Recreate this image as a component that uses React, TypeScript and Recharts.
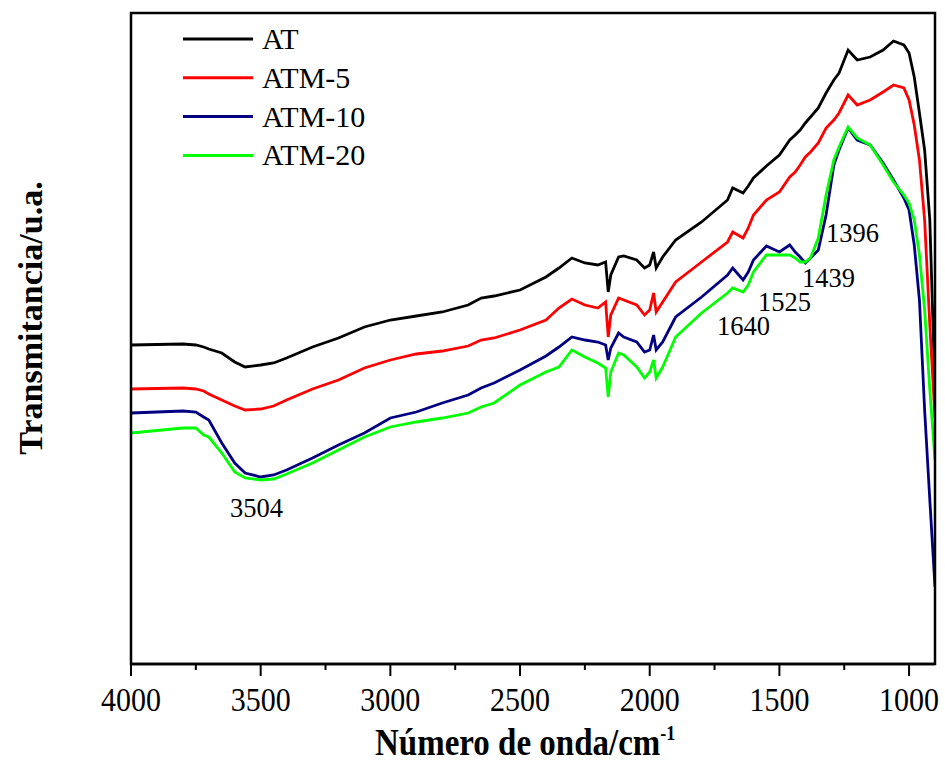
import React from 'react';
import { LineChart, Line, XAxis, YAxis } from 'recharts';

// wavenumber (cm-1), shared by every spectrum
const wavenumbers = [
  4000, 3800, 3750, 3720, 3700, 3650, 3600, 3560, 3500, 3450, 3400, 3300, 3200, 3100, 3000,
  2900, 2800, 2700, 2650, 2600, 2500, 2400, 2350, 2300, 2250, 2200, 2170, 2160, 2150, 2120,
  2100, 2050, 2020, 2000, 1985, 1975, 1950, 1900, 1800, 1700, 1680, 1640, 1620, 1600, 1550,
  1500, 1460, 1439, 1420, 1400, 1380, 1350, 1320, 1290, 1270, 1235, 1200, 1150, 1100, 1060,
  1020, 1000, 980, 960, 940, 920, 900,
];

// transmittance, arbitrary units (stacked offsets as in the figure)
const at = [
  319, 320, 319, 317, 315, 311, 302, 297, 299, 301, 306, 317, 326, 337, 344,
  348, 352, 359, 366, 368, 374, 387, 396, 406, 401, 399, 402, 372, 389, 407,
  408, 404, 396, 399, 412, 396, 407, 424, 442, 464, 476, 471, 478, 486, 498,
  509, 524, 529, 534, 541, 547, 556, 571, 584, 591, 614, 604, 607, 614, 623,
  619, 611, 587, 551, 514, 444, 274,
];
const atm5 = [
  275, 276, 275, 273, 270, 264, 258, 254, 255, 258, 264, 275, 284, 296, 304,
  310, 313, 318, 324, 326, 334, 344, 356, 365, 359, 356, 362, 327, 349, 366,
  364, 359, 349, 354, 371, 352, 362, 382, 402, 422, 432, 426, 436, 449, 464,
  472, 487, 492, 499, 507, 512, 521, 536, 544, 551, 569, 559, 564, 572, 579,
  576, 564, 539, 504, 444, 339, 246,
];
const atm10 = [
  251, 253, 252, 247, 244, 221, 201, 191, 187, 189, 194, 206, 219, 231, 246,
  252, 261, 269, 276, 281, 294, 308, 317, 327, 324, 322, 319, 304, 316, 331,
  327, 322, 312, 314, 329, 314, 322, 347, 367, 389, 396, 384, 392, 404, 418,
  412, 419, 412, 407, 401, 406, 414, 449, 499, 514, 536, 524, 519, 501, 484,
  466, 454, 419, 364, 254, 164, 77,
];
const atm20 = [
  231, 236, 236, 229, 227, 211, 192, 186, 184, 185, 190, 201, 214, 227, 237,
  242, 246, 251, 257, 261, 279, 292, 297, 314, 307, 301, 296, 267, 292, 311,
  309, 297, 286, 292, 304, 286, 297, 327, 351, 371, 376, 372, 379, 392, 409,
  409, 409, 406, 402, 402, 406, 426, 469, 504, 517, 537, 526, 519, 499, 482,
  469, 461, 444, 409, 354, 274, 204,
];

const xTicks = [4000, 3750, 3500, 3250, 3000, 2750, 2500, 2250, 2000, 1750, 1500, 1250, 1000];

const seriesList = [
  { key: 'at', name: 'AT', color: '#000000' },
  { key: 'atm5', name: 'ATM-5', color: '#ff0000' },
  { key: 'atm10', name: 'ATM-10', color: '#000080' },
  { key: 'atm20', name: 'ATM-20', color: '#00ff00' },
];

const peakLabels = [
  { text: '3504', x: 230, y: 517 },
  { text: '1640', x: 717, y: 335 },
  { text: '1525', x: 758, y: 311 },
  { text: '1439', x: 802, y: 287 },
  { text: '1396', x: 826, y: 242 },
];

const data = wavenumbers.map((wn, i) => ({
  wn,
  at: at[i],
  atm5: atm5[i],
  atm10: atm10[i],
  atm20: atm20[i],
}));

const FONT = "'Liberation Serif', 'Times New Roman', serif";

// plot box, matches the chart margins below
const box = { left: 131, top: 13, right: 935, bottom: 664 };

function WaveTick({ x, y, payload }: any) {
  const major = payload.value % 500 === 0;
  return (
    <g>
      <line x1={x} x2={x} y1={y} y2={y + (major ? 12 : 6)} stroke="#000" strokeWidth={2} />
      {major && (
        <text
          transform={`translate(${x},${y + 47}) scale(1,1.12)`}
          textAnchor="middle"
          fontSize={30}
          fontFamily={FONT}
          fill="#000"
        >
          {payload.value}
        </text>
      )}
    </g>
  );
}

export default function App() {
  return (
    <div style={{ position: 'absolute', left: 0, top: 0, width: 945, height: 763, background: '#fff' }}>
      <LineChart
        width={945}
        height={763}
        data={data}
        margin={{ top: box.top, right: 945 - box.right, bottom: 763 - box.bottom - 40, left: box.left }}
      >
        <XAxis
          dataKey="wn"
          type="number"
          domain={[900, 4000]}
          reversed
          allowDataOverflow
          ticks={xTicks}
          interval={0}
          tickSize={0}
          tickMargin={0}
          tickLine={false}
          tick={<WaveTick />}
          axisLine={{ stroke: '#000', strokeWidth: 2.5 }}
          height={40}
        />
        <YAxis
          type="number"
          domain={[0, 651]}
          allowDataOverflow
          tick={false}
          tickLine={false}
          axisLine={{ stroke: '#000', strokeWidth: 2.5 }}
          width={0}
        />
        {seriesList.map((s) => (
          <Line
            key={s.key}
            type="linear"
            dataKey={s.key}
            name={s.name}
            stroke={s.color}
            strokeWidth={2.8}
            dot={false}
            isAnimationActive={false}
          />
        ))}
      </LineChart>
      <svg
        width={945}
        height={763}
        style={{ position: 'absolute', left: 0, top: 0, pointerEvents: 'none' }}
      >
        <rect
          x={box.left}
          y={box.top}
          width={box.right - box.left}
          height={box.bottom - box.top}
          fill="none"
          stroke="#000"
          strokeWidth={2.5}
        />
        {seriesList.map((s, i) => (
          <g key={s.key}>
            <line x1={183} x2={253} y1={39 + i * 38.8} y2={39 + i * 38.8} stroke={s.color} strokeWidth={3} />
            <text x={262} y={49 + i * 38.8} fontSize={30} fontFamily={FONT} fill="#000">
              {s.name}
            </text>
          </g>
        ))}
        {peakLabels.map((p) => (
          <text key={p.text} x={p.x} y={p.y} fontSize={26.5} fontFamily={FONT} fill="#000">
            {p.text}
          </text>
        ))}
        <text
          transform="translate(375,755) scale(1,1.18)"
          fontSize={33}
          fontWeight="bold"
          fontFamily={FONT}
          fill="#000"
        >
          Número de onda/cm
          <tspan fontSize={18} dy={-13}>-1</tspan>
        </text>
        <text
          transform="translate(42,318) rotate(-90)"
          textAnchor="middle"
          fontSize={34}
          fontWeight="bold"
          fontFamily={FONT}
          fill="#000"
        >
          Transmitancia/u.a.
        </text>
      </svg>
    </div>
  );
}
